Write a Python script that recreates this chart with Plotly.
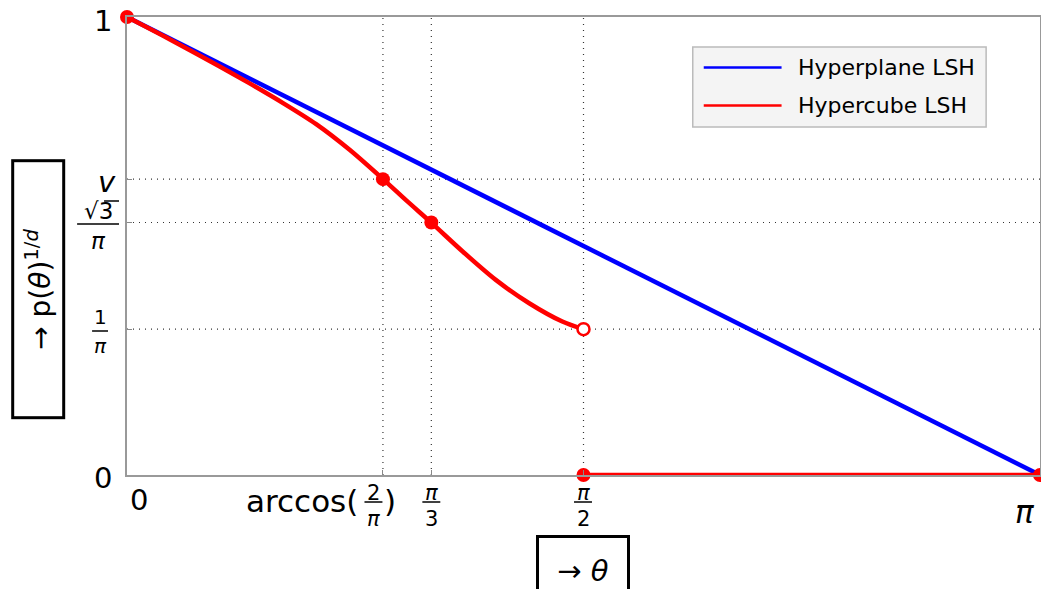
import numpy as np
import plotly.graph_objects as go

# hyperplane LSH: straight line
theta_plane = [0.0, np.pi]
p_plane = [1.0, 0.0]

# hypercube LSH (0 .. pi/2, open end at pi/2)
theta_cube = [0.0, 0.148, 0.319, 0.422, 0.537, 0.651, 0.766, 0.881,
              0.96, 1.047, 1.155, 1.269, 1.384, 1.498, 1.571]
p_cube = [1.0, 0.951, 0.892, 0.855, 0.812, 0.766, 0.710, 0.646,
          0.60, 0.551, 0.488, 0.426, 0.375, 0.335, 0.318]

# special points
v_val = 0.646
theta_dots = [0.0, np.arccos(2 / np.pi), np.pi / 3, np.pi / 2, np.pi]
p_dots = [1.0, v_val, np.sqrt(3) / np.pi, 0.0, 0.0]
theta_open = [np.pi / 2]
p_open = [1 / np.pi]
theta_floor = [np.pi / 2, np.pi]
p_floor = [0.0, 0.0]

xticks = [0.0, np.arccos(2 / np.pi), np.pi / 3, np.pi / 2, np.pi]
yticks = [0.0, 1 / np.pi, np.sqrt(3) / np.pi, v_val, 1.0]
xgrid = [np.arccos(2 / np.pi), np.pi / 3, np.pi / 2]
ygrid = [1 / np.pi, np.sqrt(3) / np.pi, v_val]

legend_names = ["Hyperplane LSH", "Hypercube LSH"]
BLUE = "#0000ff"
RED = "#ff0000"
FONT = "DejaVu Sans"

# window is 1049x589, page body has an 8px margin
PAD = 8
W, H = 1049 - PAD, 589 - PAD
L, R, T, B = 127, 1042, 17, 475  # plot area in window pixels


def px(x):
    return (x - L) / (R - L)


def py(y):
    return (B - y) / (B - T)


fig = go.Figure()
fig.add_trace(go.Scatter(x=theta_plane, y=p_plane, mode="lines",
                         line=dict(color=BLUE, width=4.5), cliponaxis=False,
                         showlegend=False, name=legend_names[0]))
fig.add_trace(go.Scatter(x=theta_cube, y=p_cube, mode="lines",
                         line=dict(color=RED, width=4.5, shape="spline", smoothing=0.8),
                         cliponaxis=False, showlegend=False, name=legend_names[1]))
fig.add_trace(go.Scatter(x=theta_floor, y=p_floor, mode="lines",
                         line=dict(color=RED, width=4.5), cliponaxis=False,
                         showlegend=False))
fig.add_trace(go.Scatter(x=theta_dots, y=p_dots, mode="markers",
                         marker=dict(color=RED, size=14), cliponaxis=False,
                         showlegend=False))
fig.add_trace(go.Scatter(x=theta_open, y=p_open, mode="markers",
                         marker=dict(color="white", size=12, line=dict(color=RED, width=2.5)),
                         cliponaxis=False, showlegend=False))

grid_line = dict(color="#333", width=1.2, dash="1px,5px")
shapes = []
for g in xgrid:
    shapes.append(dict(type="line", xref="x", yref="paper", x0=g, x1=g, y0=0, y1=1,
                       line=grid_line, layer="below"))
for g in ygrid:
    shapes.append(dict(type="line", xref="paper", yref="y", x0=0, x1=1, y0=g, y1=g,
                       line=grid_line, layer="below"))

annotations = []


def text(x, y, s, size, xanchor="center", **kw):
    annotations.append(dict(x=x, y=y, xref="paper", yref="paper", text=s, showarrow=False,
                            xanchor=xanchor, yanchor="middle",
                            font=dict(family=FONT, size=size, color="black"), **kw))


def frac(cx, num, den, ynum, ybar, yden, half, size):
    # cx in window pixels
    text(px(cx), py(ynum), num, size)
    text(px(cx), py(yden), den, size)
    shapes.append(dict(type="line", xref="paper", yref="paper",
                       x0=px(cx - half), x1=px(cx + half), y0=py(ybar), y1=py(ybar),
                       line=dict(color="black", width=1.5)))


# y tick labels
text(px(103), py(21), "1", 29)
text(px(103), py(478), "0", 29)
text(px(107), py(182), "<i>v</i>", 29)
frac(98, "\u221a3", "<i>\u03c0</i>", 211, 224, 241, 21, 23)
shapes.append(dict(type="line", xref="paper", yref="paper", x0=px(104), x1=px(119),
                   y0=py(201), y1=py(201), line=dict(color="black", width=1.5)))
frac(100, "1", "<i>\u03c0</i>", 317, 331, 346, 8, 20)

# x tick labels
text(px(139), py(500), "0", 29)
text(px(1027), py(512), "<i>\u03c0</i>", 31)
text(px(361), py(501), "arccos(", 31, xanchor="right")
frac(374, "2", "<i>\u03c0</i>", 493, 502, 519, 9, 21)
text(px(383), py(501), ")", 31, xanchor="left")
frac(432, "<i>\u03c0</i>", "3", 493, 502, 519, 9, 21)
frac(584, "<i>\u03c0</i>", "2", 493, 502, 519, 9, 21)

# axis titles in boxes
annotations.append(dict(x=px(37.5), y=py(289.5), xref="paper", yref="paper",
                        text="\u2192 p(<i>\u03b8</i>)<sup>1/<i>d</i></sup>", showarrow=False,
                        textangle=-90, font=dict(family=FONT, size=28, color="black"),
                        bordercolor="black", borderwidth=3, borderpad=2,
                        width=250, height=44, xanchor="center", yanchor="middle"))
annotations.append(dict(x=px(584), y=py(571), xref="paper", yref="paper",
                        text="\u2192 <i>\u03b8</i>", showarrow=False,
                        font=dict(family=FONT, size=29, color="black"),
                        bordercolor="black", borderwidth=3, borderpad=2,
                        width=84, height=62, xanchor="center", yanchor="middle"))

# legend drawn by hand
shapes.append(dict(type="rect", xref="paper", yref="paper", x0=px(694), x1=px(988),
                   y0=py(127), y1=py(47), fillcolor="#f4f4f4",
                   line=dict(color="#bbbbbb", width=1.5)))
for name, col, yy in zip(legend_names, [BLUE, RED], [67.5, 105.5]):
    shapes.append(dict(type="line", xref="paper", yref="paper", x0=px(705), x1=px(783),
                       y0=py(yy), y1=py(yy), line=dict(color=col, width=2.5)))
    text(px(797), py(yy), name, 22, xanchor="left")

fig.update_layout(
    width=W, height=H,
    margin=dict(l=L - PAD, r=PAD + W - R, t=T - PAD, b=PAD + H - B),
    plot_bgcolor="white", paper_bgcolor="white",
    font=dict(family=FONT),
    shapes=shapes, annotations=annotations,
    xaxis=dict(range=[0, np.pi], showgrid=False, zeroline=False, showline=True,
               linecolor="#999", linewidth=1.5, mirror=True, ticks="inside",
               ticklen=5, tickcolor="#888", tickvals=xticks, showticklabels=False),
    yaxis=dict(range=[0, 1], showgrid=False, zeroline=False, showline=True,
               linecolor="#999", linewidth=1.5, mirror=True, ticks="inside",
               ticklen=5, tickcolor="#888", tickvals=yticks, showticklabels=False),
)

fig.write_html("out.html")
